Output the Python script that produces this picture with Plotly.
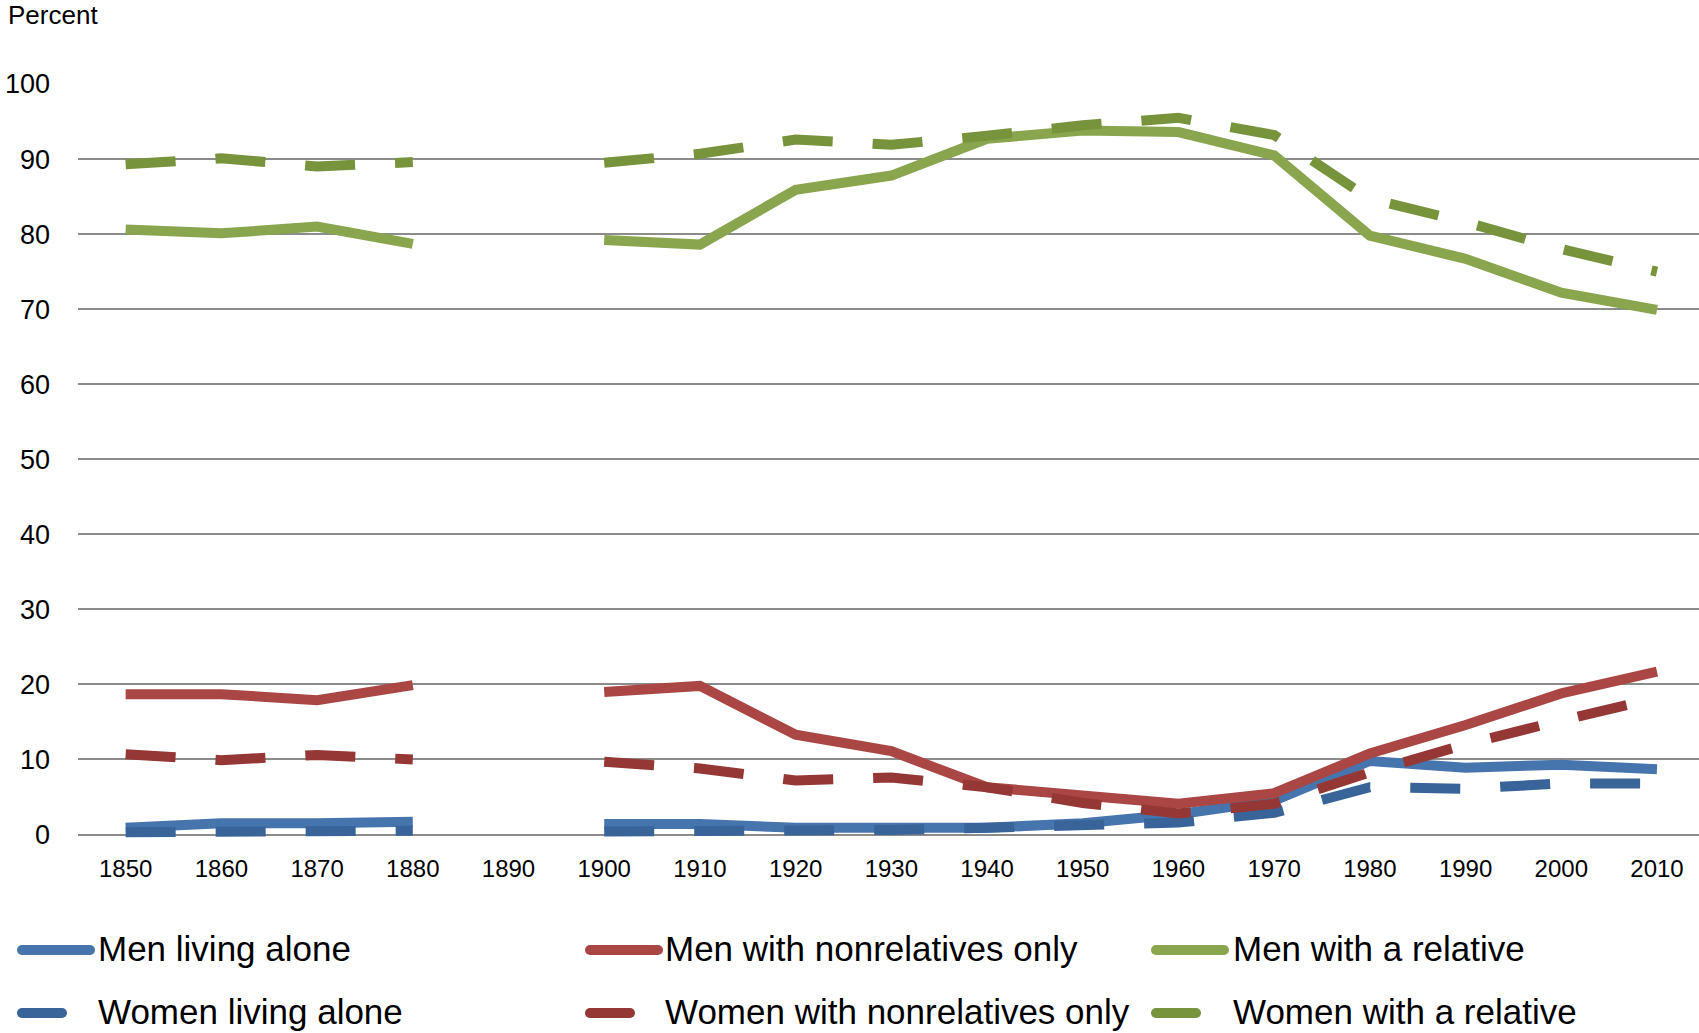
import plotly.graph_objects as go

years = [1850, 1860, 1870, 1880, 1890, 1900, 1910, 1920, 1930, 1940,
         1950, 1960, 1970, 1980, 1990, 2000, 2010]
tick_labels = [str(y) for y in years]

men_alone = [0.9, 1.5, 1.5, 1.7, None, 1.4, 1.4, 0.9, 0.9, 0.9,
             1.5, 2.7, 4.5, 9.8, 8.9, 9.3, 8.7]
women_alone = [0.3, 0.4, 0.5, 0.5, None, 0.4, 0.4, 0.4, 0.6, 0.9,
               1.2, 1.6, 2.9, 6.3, 6.1, 6.8, 6.8]
men_nonrel = [18.7, 18.7, 17.9, 19.9, None, 19.0, 19.8, 13.3, 11.1, 6.3,
              5.1, 4.1, 5.5, 10.8, 14.6, 18.8, 21.7]
women_nonrel = [10.7, 9.9, 10.6, 10.0, None, 9.7, 8.8, 7.2, 7.6, 6.3,
                4.2, 2.8, 4.1, 8.3, 12.0, 15.2, 18.2]
men_rel = [80.6, 80.1, 81.0, 78.7, None, 79.2, 78.6, 85.9, 87.8, 92.7,
           93.8, 93.6, 90.5, 79.8, 76.7, 72.2, 69.9]
women_rel = [89.3, 90.1, 89.0, 89.6, None, 89.5, 90.7, 92.6, 91.9, 93.1,
             94.5, 95.5, 93.2, 84.7, 81.6, 78.0, 75.0]

series = [
    ("Men living alone", men_alone, "#4675AD", "solid"),
    ("Men with nonrelatives only", men_nonrel, "#AA4643", "solid"),
    ("Men with a relative", men_rel, "#89A54E", "solid"),
    ("Women living alone", women_alone, "#38649A", "dash"),
    ("Women with nonrelatives only", women_nonrel, "#953735", "dash"),
    ("Women with a relative", women_rel, "#77933C", "dash"),
]

W, H = 1699, 1033
ML, MR, MT, MB = 78, 0, 84, 191
PW = W - ML - MR
PH = H - MT - MB
FONT = "Liberation Sans, Arial, sans-serif"


def px2x(px):
    return (px - ML) / PW


def py2y(py):
    return (H - MB - py) / PH


fig = go.Figure()
for name, vals, color, style in series:
    fig.add_trace(go.Scatter(
        x=years, y=vals, name=name, mode="lines",
        line=dict(color=color, width=10,
                  dash="50px,40px" if style == "dash" else "solid"),
        connectgaps=False, showlegend=False, hoverinfo="skip",
    ))

# Manual legend (symbols + labels), positions in pixels
shapes = []
annotations = []
legend_pos = [
    (17, 96, 948), (585, 663, 948), (1151, 1231, 948),
    (17, 96, 1011), (585, 663, 1011), (1151, 1231, 1011),
]
for (name, vals, color, style), (sx, tx, ty) in zip(series, legend_pos):
    L = 78 if style == "solid" else 50
    r = 5
    ax, ay = px2x(sx), py2y(ty + 2)
    shapes.append(dict(type="rect", xref="paper", yref="paper",
                       xsizemode="pixel", ysizemode="pixel",
                       xanchor=ax, yanchor=ay,
                       x0=r, x1=L - r, y0=-r, y1=r,
                       fillcolor=color, line=dict(width=0)))
    for cx in (r, L - r):
        shapes.append(dict(type="circle", xref="paper", yref="paper",
                           xsizemode="pixel", ysizemode="pixel",
                           xanchor=ax, yanchor=ay,
                           x0=cx - r, x1=cx + r, y0=-r, y1=r,
                           fillcolor=color, line=dict(width=0)))
    annotations.append(dict(text=name, xref="paper", yref="paper",
                            x=px2x(tx), y=py2y(ty), xanchor="left",
                            yanchor="middle", showarrow=False,
                            font=dict(family=FONT, size=35, color="#000000")))

annotations.append(dict(text="Percent", xref="paper", yref="paper",
                        x=px2x(6), y=py2y(15), xanchor="left",
                        yanchor="middle", showarrow=False,
                        font=dict(family=FONT, size=26, color="#000000")))

fig.update_layout(
    width=W, height=H,
    margin=dict(l=ML, r=MR, t=MT, b=MB, autoexpand=False),
    paper_bgcolor="white", plot_bgcolor="white",
    shapes=shapes, annotations=annotations,
    font=dict(family=FONT, color="#000000"),
    xaxis=dict(
        range=[1845.02, 2014.39], tickmode="array",
        tickvals=years, ticktext=tick_labels,
        showgrid=False, zeroline=False, showline=False,
        tickfont=dict(family=FONT, size=24, color="#000000"),
        ticklabelstandoff=10,
    ),
    yaxis=dict(
        range=[-1, 100], tick0=0, dtick=10,
        showgrid=True, gridcolor="#8C8C8C", gridwidth=2,
        zeroline=False, showline=False,
        tickfont=dict(family=FONT, size=27, color="#000000"),
        ticklabelstandoff=27,
    ),
)

# remove the default page margin so the figure fills the window exactly
fig.write_html("out.html",
               config={"displayModeBar": False, "staticPlot": True},
               post_script="document.body.style.margin='0';"
                           "document.body.style.overflow='hidden';")
